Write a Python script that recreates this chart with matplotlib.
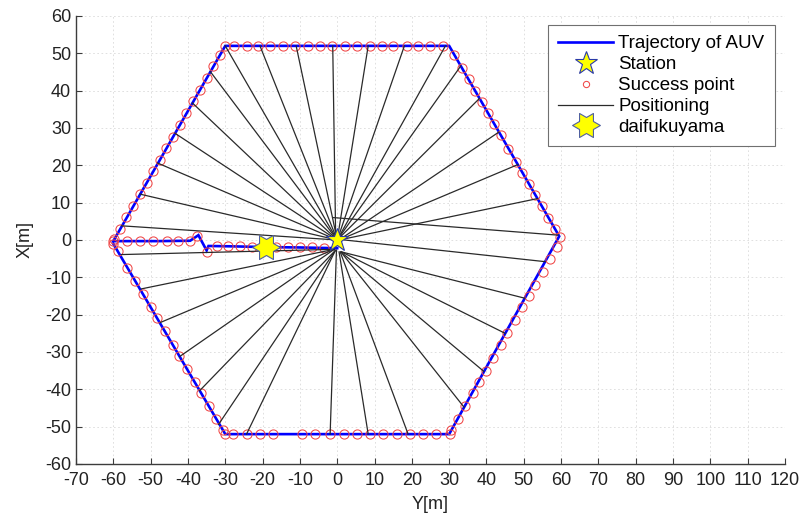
import numpy as np
import matplotlib
matplotlib.use("Agg")
import matplotlib.pyplot as plt
from matplotlib.path import Path
from matplotlib.transforms import Affine2D
from matplotlib.lines import Line2D

plt.rcParams['font.family'] = ['Liberation Sans', 'DejaVu Sans']
plt.rcParams['font.size'] = 13
plt.rcParams['axes.unicode_minus'] = False

# ---------------- data ----------------
# AUV trajectory (Y = horizontal axis, X = vertical axis)
traj_y = [0.0, -10.0, -19.0, -28.0, -34.5, -35.0, -37.2, -39.4, -48.0, -55.0, -60.0,
          -30.0, 30.0, 59.5, 30.0, -30.0, -60.0]
traj_x = [-2.2, -2.0, -1.9, -1.7, -1.6, -2.8, 1.3, -0.2, -0.3, -0.3, -0.3,
          52.0, 52.0, 1.0, -52.0, -52.0, -1.0]

# success points, grouped by leg
sp_line_y = [-60.0, -56.4, -52.9, -49.3, -45.7, -42.6, -39.5, -37.5, -35.0, -32.3, -29.2,
             -26.1, -22.9, -19.6, -16.4, -13.1, -10.0, -6.8, -3.5]
sp_line_x = [-0.3, -0.3, -0.3, -0.3, -0.3, -0.4, -0.3, 1.0, -3.1, -1.5, -1.6,
             -1.7, -1.8, -1.8, -1.9, -1.9, -2.0, -2.0, -2.1]

sp_top_y = [-30.0, -27.7, -24.3, -21.2, -18.0, -14.5, -11.3, -7.8, -4.6, -1.5, 2.1,
            5.2, 8.8, 11.9, 15.0, 18.6, 21.7, 24.9, 28.4]
sp_top_x = [52.0] * len(sp_top_y)

sp_ul_y = [-31.4, -33.2, -35.0, -36.8, -38.6, -40.4, -42.2, -44.0, -45.8, -47.6, -49.3,
           -51.1, -52.9, -54.7, -56.5, -58.3, -59.8]
sp_ul_x = [49.6, 46.5, 43.4, 40.2, 37.1, 34.0, 30.9, 27.7, 24.6, 21.5, 18.5,
           15.4, 12.3, 9.2, 6.1, 2.9, 0.4]

sp_ur_y = [31.4, 33.5, 35.2, 36.9, 38.7, 40.4, 42.1, 43.8, 45.9, 47.9, 49.6,
           51.4, 53.1, 54.8, 56.5, 58.3, 59.6]
sp_ur_x = [49.5, 46.0, 43.0, 40.0, 37.0, 34.0, 31.0, 28.0, 24.5, 21.0, 18.0,
           15.0, 12.0, 9.0, 6.0, 3.0, 0.8]

sp_lr_y = [58.9, 57.1, 55.1, 53.1, 51.4, 49.6, 47.6, 45.6, 43.8, 41.8, 39.8,
           38.1, 36.3, 34.3, 32.3, 30.6]
sp_lr_x = [-2.0, -5.0, -8.5, -12.0, -15.0, -18.0, -21.5, -25.0, -28.0, -31.5, -35.0,
           -38.0, -41.0, -44.5, -48.0, -51.0]

sp_ll_y = [-60.0, -58.8, -56.2, -54.1, -52.1, -50.0, -48.2, -46.2, -44.1, -42.4, -40.3,
           -38.2, -36.5, -34.4, -32.4, -30.6]
sp_ll_x = [-1.0, -3.0, -7.5, -11.0, -14.5, -18.0, -21.0, -24.5, -28.0, -31.0, -34.5,
           -38.0, -41.0, -44.5, -48.0, -51.0]

sp_bot_y = [-30.1, -27.9, -24.3, -20.7, -17.1, -9.5, -6.0, -1.9, 1.8, 5.2, 8.8,
            12.3, 15.9, 19.5, 23.1, 26.6, 30.2]
sp_bot_x = [-52.0] * len(sp_bot_y)

# positioning lines: AUV position -> estimated station position
pos_from_y = [-30.0, -20.7, -11.0, -1.2, 8.3, 18.0, 29.0,
              -34.0, -38.8, -43.5, -48.1, -52.9, -57.8,
              33.1, 38.1, 43.3, 48.4, 53.7, 59.2,
              55.7, 50.3, 45.0, 39.3, 34.0, 19.0, 8.3, -1.9,
              -57.8, -52.5, -47.4, -42.2, -36.9, -31.8, -24.3]
pos_from_x = [52.0, 52.0, 52.0, 52.0, 52.0, 52.0, 52.0,
              45.1, 36.7, 28.6, 20.6, 12.3, 3.8,
              46.6, 37.9, 28.9, 20.2, 11.1, 1.3,
              -5.8, -15.6, -25.0, -35.2, -44.8, -52.0, -52.0, -52.0,
              -3.9, -13.1, -22.1, -31.2, -40.4, -49.4, -52.0]
pos_to_y = [0.0, 0.0, 0.0, -0.4, 0.0, 0.0, 0.0,
            0.0, 0.0, 0.0, 0.0, 0.0, 0.0,
            0.0, 0.0, 0.5, 0.5, 0.5, -1.0,
            2.0, 1.2, 1.2, 1.0, 1.0, 0.8, 0.5, -0.2,
            -0.8, -0.8, -0.8, -0.8, -0.5, -0.5, -0.5]
pos_to_x = [0.0, 0.0, 0.0, 0.0, 0.0, 0.0, 0.0,
            0.0, 0.0, 0.0, 0.0, 0.0, 0.0,
            0.0, 0.0, 0.0, 0.0, 0.0, 6.0,
            0.0, -3.2, -3.2, -3.2, -3.2, -3.2, -3.2, -2.7,
            -2.5, -2.5, -2.5, -2.5, -2.8, -2.8, -2.8]

station_y, station_x = [0.0], [0.0]
daifuku_y, daifuku_x = [-19.2], [-1.8]

xticks = list(range(-70, 121, 10))
yticks = list(range(-60, 61, 10))

# ---------------- figure ----------------
W, H = 807, 519
fig = plt.figure(figsize=(W / 100, H / 100), dpi=100)
ax = fig.add_axes([76 / W, 55 / H, 709 / W, 448 / H])

blue = '#0000ff'
red = '#f04848'

ax.plot(traj_y, traj_x, color=blue, lw=1.9, zorder=3, solid_joinstyle='miter')

sy = sp_line_y + sp_top_y + sp_ul_y + sp_ur_y + sp_lr_y + sp_ll_y + sp_bot_y
sx = sp_line_x + sp_top_x + sp_ul_x + sp_ur_x + sp_lr_x + sp_ll_x + sp_bot_x
ax.plot(sy, sx, ls='none', marker='o', ms=6.6, mfc='none', mec=red, mew=0.75, zorder=4)

for y0, x0, y1, x1 in zip(pos_from_y, pos_from_x, pos_to_y, pos_to_x):
    ax.plot([y0, y1], [x0, x1], color='#2a2a2a', lw=0.9, zorder=5)

ax.plot(station_y, station_x, ls='none', marker='*', ms=17, mfc='#ffff00',
        mec='#2a3aa8', mew=0.8, zorder=7)

hexagram = Path.unit_regular_star(6, innerCircle=0.577).transformed(Affine2D().rotate_deg(30))
ax.plot(daifuku_y, daifuku_x, ls='none', marker=hexagram, ms=20, mfc='#ffff00',
        mec='#5060a0', mew=0.8, zorder=7)

ax.set_xlim(-70, 120)
ax.set_ylim(-60, 60)
ax.set_xticks(xticks)
ax.set_yticks(yticks)
ax.grid(True, color='#dadada', lw=0.6, ls=(0, (2, 3)))
ax.set_axisbelow(True)
for s in ['top', 'right']:
    ax.spines[s].set_visible(False)
for s in ['left', 'bottom']:
    ax.spines[s].set_color('#3c3c3c')
    ax.spines[s].set_linewidth(1.0)
ax.tick_params(axis='x', direction='in', length=4, width=0.8, color='#3c3c3c', pad=5.5,
               labelsize=13, labelcolor='#222222')
ax.tick_params(axis='y', direction='in', length=4, width=0.8, color='#3c3c3c', pad=3.5,
               labelsize=13, labelcolor='#222222')
ax.set_xlabel('Y[m]', fontsize=13, labelpad=5, color='#222222')
ax.set_ylabel('X[m]', fontsize=13, labelpad=8, color='#222222')

handles = [
    Line2D([], [], color=blue, lw=1.9),
    Line2D([], [], ls='none', marker='*', ms=17, mfc='#ffff00', mec='#2a3aa8', mew=0.8),
    Line2D([], [], ls='none', marker='o', ms=4.5, mfc='none', mec=red, mew=0.75),
    Line2D([], [], color='#2a2a2a', lw=0.9),
    Line2D([], [], ls='none', marker=hexagram, ms=20, mfc='#ffff00', mec='#5060a0', mew=0.8),
]
labels = ['Trajectory of AUV', 'Station', 'Success point', 'Positioning', 'daifukuyama']
leg = ax.legend(handles, labels, loc='upper left', bbox_to_anchor=(548 / W, 1 - 25 / H),
                bbox_transform=fig.transFigure, borderaxespad=0, fontsize=13.5,
                handlelength=2.9, handletextpad=0.3, labelspacing=0.2, borderpad=0.55,
                fancybox=False, framealpha=1, edgecolor='#707070')
leg.get_frame().set_linewidth(0.8)
leg.set_zorder(10)

fig.savefig('out.png', dpi=100)
